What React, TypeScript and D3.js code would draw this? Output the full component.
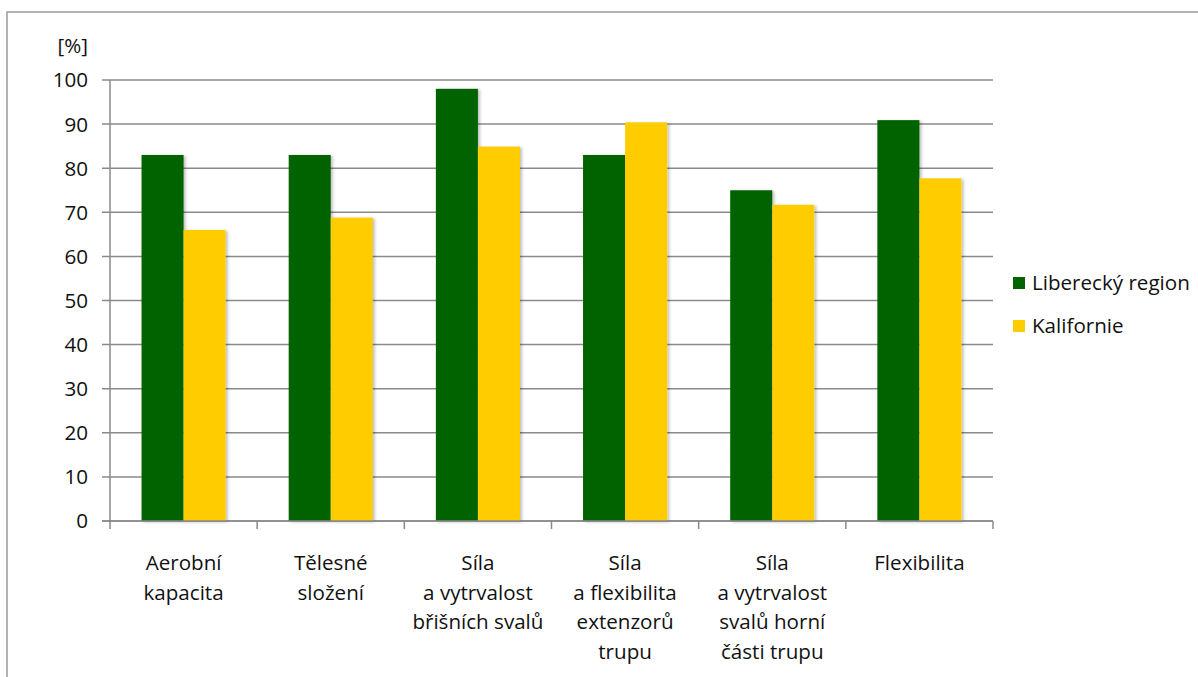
import React from "react";
import * as d3 from "d3";

const categories: string[][] = [
  ["Aerobní", "kapacita"],
  ["Tělesné", "složení"],
  ["Síla", "a vytrvalost", "břišních svalů"],
  ["Síla", "a flexibilita", "extenzorů", "trupu"],
  ["Síla", "a vytrvalost", "svalů horní", "části trupu"],
  ["Flexibilita"],
];
const seriesNames = ["Liberecký region", "Kalifornie"];
const liberec = [83, 83, 98, 83, 75, 90.9];
const kalifornie = [66, 68.8, 84.9, 90.4, 71.7, 77.7];
const yTicks = [0, 10, 20, 30, 40, 50, 60, 70, 80, 90, 100];
const colors = ["#006400", "#FFCC00"];

const W = 1198;
const H = 677;
const left = 110;
const right = 993;
const top = 80;
const bottom = 521;
const font = "'Open Sans', Lato, sans-serif";
const fs = 20.6;

export default function App() {
  const x = d3
    .scaleBand<number>()
    .domain(categories.map((_, i) => i))
    .range([left, right])
    .paddingInner(0)
    .paddingOuter(0);
  const inner = d3
    .scaleBand<number>()
    .domain([0, 1])
    .range([0, x.bandwidth()])
    .paddingInner(0)
    .paddingOuter(0.75);
  const y = d3.scaleLinear().domain([0, 100]).range([bottom, top]);
  const series = [liberec, kalifornie];
  const grid = "#8a8a8a";
  const txt = "#111";

  return (
    <svg
      width={W}
      height={H}
      style={{ position: "absolute", left: 0, top: 0, background: "#fff" }}
      fontFamily={font}
    >
      <defs>
        <filter id="sh" x="-20%" y="-5%" width="150%" height="110%">
          <feDropShadow dx="2" dy="1" stdDeviation="1.5" floodColor="#000" floodOpacity="0.25" />
        </filter>
      </defs>
      <rect x={7} y={12} width={W + 10} height={H + 10} fill="#fff" stroke="#9a9a9a" strokeWidth={1.5} />
      {yTicks.map((t) => (
        <g key={t}>
          <line x1={left - 8} x2={right} y1={y(t)} y2={y(t)} stroke={grid} strokeWidth={1.5} />
          <text x={88} y={y(t)} dy="0.36em" textAnchor="end" fontSize={fs} fill={txt}>
            {t}
          </text>
        </g>
      ))}
      <text x={88} y={53} textAnchor="end" fontSize={fs} fill={txt}>
        [%]
      </text>
      <line x1={left} x2={left} y1={top} y2={bottom} stroke={grid} strokeWidth={1.5} />
      {d3.range(categories.length + 1).map((i) => {
        const xx = i < categories.length ? (x(i) as number) : right;
        return <line key={i} x1={xx} x2={xx} y1={bottom} y2={bottom + 8} stroke={grid} strokeWidth={1.5} />;
      })}
      {categories.map((_, i) =>
        series.map((s, k) => (
          <rect
            key={`${i}-${k}`}
            x={(x(i) as number) + (inner(k) as number)}
            y={y(s[i])}
            width={inner.bandwidth()}
            height={y(0) - y(s[i])}
            fill={colors[k]}
            filter="url(#sh)"
          />
        ))
      )}
      <line x1={left - 8} x2={right} y1={bottom} y2={bottom} stroke={grid} strokeWidth={1.5} />
      {categories.map((lines, i) => (
        <text
          key={i}
          x={(x(i) as number) + x.bandwidth() / 2}
          textAnchor="middle"
          fontSize={fs}
          fill={txt}
        >
          {lines.map((l, j) => (
            <tspan key={j} x={(x(i) as number) + x.bandwidth() / 2} y={570 + j * 29.7}>
              {l}
            </tspan>
          ))}
        </text>
      ))}
      {seriesNames.map((n, k) => (
        <g key={n} transform={`translate(1013, ${277 + k * 43})`}>
          <rect width={12} height={12} fill={colors[k]} />
          <text x={19} y={12.5} fontSize={fs} fill={txt}>
            {n}
          </text>
        </g>
      ))}
    </svg>
  );
}
